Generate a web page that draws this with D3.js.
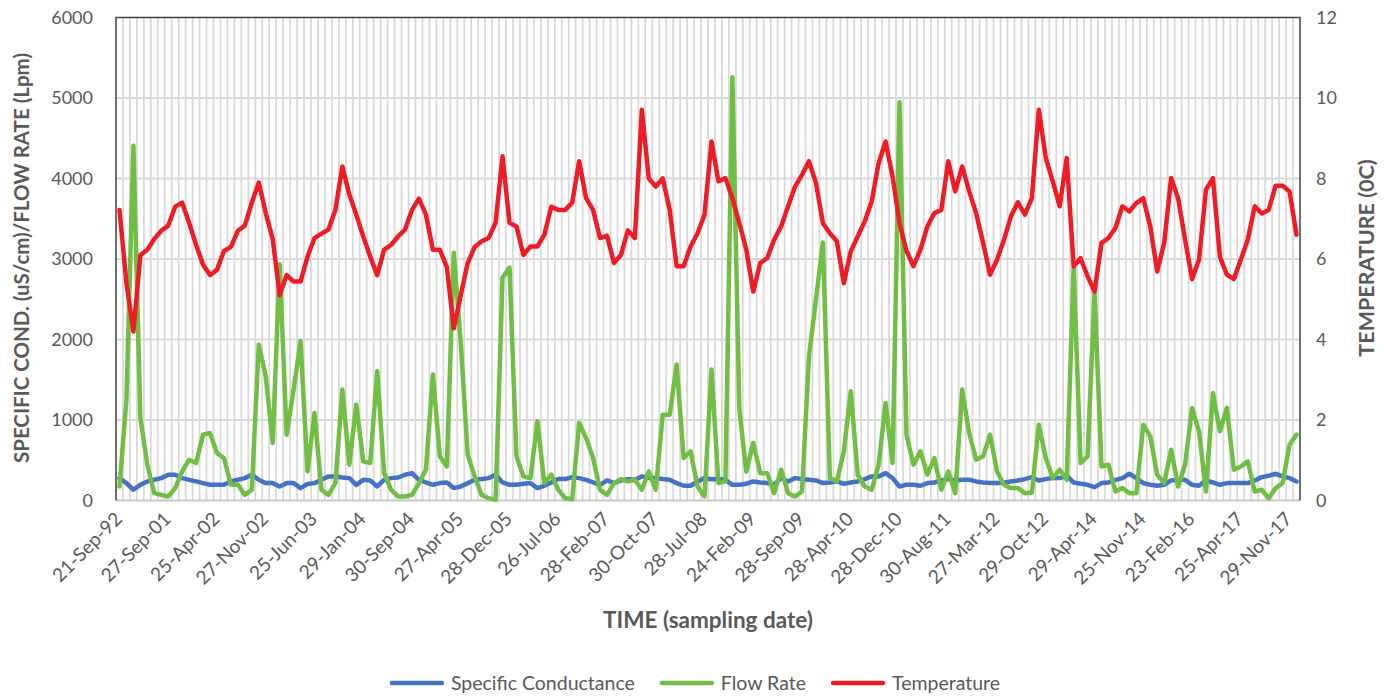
<!DOCTYPE html>
<html><head><meta charset="utf-8">
<script src="https://cdn.jsdelivr.net/npm/d3@7"></script>
<style>body{margin:0;background:#fff;} svg{display:block;font-family:Lato,"Open Sans",sans-serif;}</style>
</head><body><svg id="c" width="1388" height="696"></svg>
<script>
// ---- DATA ----
const tickLabels = ["21-Sep-92","27-Sep-01","25-Apr-02","27-Nov-02","25-Jun-03","29-Jan-04","30-Sep-04","27-Apr-05","28-Dec-05","26-Jul-06","28-Feb-07","30-Oct-07","28-Jul-08","24-Feb-09","28-Sep-09","28-Apr-10","28-Dec-10","30-Aug-11","27-Mar-12","29-Oct-12","29-Apr-14","25-Nov-14","23-Feb-16","25-Apr-17","29-Nov-17"];
const tickEvery = 7;
const conductance = [
278,216,133,195,237,257,278,320,320,278,
257,237,216,195,195,195,237,257,278,320,
257,216,216,174,216,216,154,205,216,257,
299,299,286,278,195,257,249,174,257,278,
286,320,340,257,224,195,216,224,154,174,
216,257,266,278,320,224,195,195,208,216,
154,183,224,266,266,290,278,257,224,195,
249,216,249,266,257,299,278,278,266,257,
216,183,183,237,278,265,266,257,195,195,
208,237,224,216,195,280,237,278,266,257,
249,216,224,237,208,224,237,266,299,299,
340,278,174,195,195,183,216,224,249,266,
249,257,257,237,224,216,216,224,237,249,
266,290,249,266,278,278,307,224,208,195,
166,216,224,257,278,332,278,216,195,183,
195,249,257,257,195,183,249,224,195,216,
216,216,216,249,290,307,332,299,278,237];
const flowRate = [
174,1253,4407,1025,444,91,70,50,154,361,
506,465,818,838,589,527,195,195,70,133,
1938,1544,714,2934,818,1378,1980,361,1087,133,
70,216,1378,444,1191,486,465,1606,340,133,
50,50,70,216,382,1565,548,423,3079,1959,
569,299,70,29,8,2768,2893,548,299,278,
984,216,320,133,29,17,963,776,527,133,
70,216,266,237,257,133,361,133,1066,1066,
1689,527,610,174,50,1627,216,237,5258,1129,
361,714,340,340,91,382,91,50,112,1793,
2498,3204,278,237,610,1357,320,174,133,444,
1212,465,4947,818,444,610,320,527,133,361,
91,1378,838,506,548,818,361,195,154,154,
91,100,942,527,278,382,257,2893,465,548,
2581,423,444,112,154,91,91,942,797,320,
216,631,174,444,1150,859,112,1336,859,1150,
382,423,486,112,133,29,154,216,693,818];
const temperature = [
7.22,5.4,4.2,6.1,6.23,6.5,6.7,6.83,7.3,7.4,
6.9,6.35,5.86,5.6,5.73,6.2,6.3,6.7,6.83,7.4,
7.9,7.14,6.5,5.1,5.6,5.44,5.44,6.06,6.52,6.63,
6.73,7.22,8.3,7.6,7.1,6.56,6.06,5.6,6.23,6.35,
6.56,6.73,7.22,7.5,7.1,6.23,6.23,5.8,4.28,5.1,
5.9,6.3,6.44,6.52,6.9,8.55,6.9,6.81,6.1,6.31,
6.31,6.6,7.3,7.22,7.22,7.4,8.43,7.51,7.22,6.52,
6.58,5.9,6.1,6.71,6.52,9.71,8.0,7.8,8.0,7.22,
5.82,5.82,6.31,6.64,7.1,8.92,7.93,8.01,7.51,6.89,
6.23,5.19,5.9,6.02,6.48,6.81,7.31,7.8,8.09,8.43,
7.89,6.89,6.64,6.44,5.4,6.19,6.56,6.93,7.43,8.38,
8.92,8.05,6.89,6.2,5.82,6.23,6.81,7.14,7.22,8.43,
7.68,8.3,7.68,7.14,6.4,5.61,5.98,6.48,7.06,7.41,
7.1,7.51,9.71,8.51,7.93,7.31,8.51,5.82,6.02,5.57,
5.19,6.4,6.52,6.77,7.31,7.18,7.39,7.51,6.81,5.69,
6.4,8.01,7.51,6.48,5.5,5.98,7.72,8.01,6.06,5.61,
5.5,5.98,6.48,7.31,7.13,7.22,7.82,7.82,7.68,6.6];
const seriesNames = ["Specific Conductance","Flow Rate","Temperature"];
const seriesColors = ["#4472C4","#70BF44","#EE1C25"];
const leftTicks = [0,1000,2000,3000,4000,5000,6000];
const rightTicks = [0,2,4,6,8,10,12];
const leftTitle = "SPECIFIC COND. (uS/cm)/FLOW RATE (Lpm)";
const rightTitle = "TEMPERATURE (0C)";
const xTitle = "TIME (sampling date)";

// ---- LAYOUT ----
const m = {l:116, r:1300, t:17.5, b:500.5};
const txt = "#595959";
const n = conductance.length;
const svg = d3.select("#c");
const x = d3.scaleBand().domain(d3.range(n)).range([m.l, m.r]);
const xc = i => x(i) + x.bandwidth()/2;
const yL = d3.scaleLinear().domain([0,6000]).range([m.b, m.t]);
const yR = d3.scaleLinear().domain([0,12]).range([m.b, m.t]);

// gridlines
const g = svg.append("g");
g.selectAll(".vg").data(d3.range(1, n)).enter().append("line")
  .attr("x1", i => x(i)).attr("x2", i => x(i)).attr("y1", m.t).attr("y2", m.b)
  .attr("stroke", "#d9d9d9").attr("stroke-width", 1.75);
g.selectAll(".hg").data(leftTicks.slice(1, -1)).enter().append("line")
  .attr("x1", m.l).attr("x2", m.r).attr("y1", d => yL(d)).attr("y2", d => yL(d))
  .attr("stroke", "#d9d9d9").attr("stroke-width", 2);
svg.append("line").attr("x1", m.l).attr("x2", m.r).attr("y1", m.b).attr("y2", m.b)
  .attr("stroke", "#c8c8c8").attr("stroke-width", 2);
svg.append("path").attr("d", `M${m.l},${m.b}V${m.t}H${m.r}V${m.b}`)
  .attr("fill", "none").attr("stroke", "#404040").attr("stroke-width", 1.5);

// axes
const la = svg.append("g").attr("transform", `translate(${m.l},0)`)
  .call(d3.axisLeft(yL).tickValues(leftTicks).tickSize(0).tickPadding(23).tickFormat(d3.format("d")));
const ra = svg.append("g").attr("transform", `translate(${m.r},0)`)
  .call(d3.axisRight(yR).tickValues(rightTicks).tickSize(0).tickPadding(16));
const xa = svg.append("g").attr("transform", `translate(0,${m.b})`)
  .call(d3.axisBottom(x).tickValues(d3.range(0, n, tickEvery)).tickSize(0)
    .tickFormat(i => tickLabels[i / tickEvery]));
[la, ra, xa].forEach(a => {
  a.select(".domain").remove();
  a.selectAll("text").attr("fill", txt).style("font-size", "18px").style("font-family", "Lato");
});
xa.selectAll("text").style("font-size", "19px").attr("x", 0).attr("y", 0).attr("dy", "0.35em")
  .attr("text-anchor", "end").attr("transform", "translate(-1,15) rotate(-45)");

// lines
const lineL = d3.line().x((d, i) => xc(i)).y(d => yL(d));
const lineR = d3.line().x((d, i) => xc(i)).y(d => yR(d));
const lines = [
  {d: conductance, f: lineL, c: seriesColors[0]},
  {d: flowRate, f: lineL, c: seriesColors[1]},
  {d: temperature, f: lineR, c: seriesColors[2]}
];
lines.forEach(s => {
  svg.append("path").attr("d", s.f(s.d)).attr("fill", "none").attr("stroke", s.c)
    .attr("stroke-width", 4.5).attr("stroke-linejoin", "round").attr("stroke-linecap", "round");
});

// titles
svg.append("text").attr("transform", `translate(22,258) rotate(-90)`).attr("dy", "0.35em")
  .attr("text-anchor", "middle").attr("fill", txt).style("font-size", "20.5px").style("font-weight", "bold")
  .text(leftTitle);
svg.append("text").attr("transform", `translate(1366,258) rotate(-90)`).attr("dy", "0.35em")
  .attr("text-anchor", "middle").attr("fill", txt).style("font-size", "21.5px").style("font-weight", "bold")
  .text(rightTitle);
svg.append("text").attr("x", 708).attr("y", 620).attr("dy", "0.35em")
  .attr("text-anchor", "middle").attr("fill", txt).style("font-size", "22.5px").style("font-weight", "bold")
  .text(xTitle);

// legend
const lg = svg.append("g");
const items = seriesNames.map((nm, i) => {
  const gi = lg.append("g");
  gi.append("line").attr("x1", 0).attr("x2", 50).attr("y1", 0).attr("y2", 0)
    .attr("stroke", seriesColors[i]).attr("stroke-width", 4.5).attr("stroke-linecap", "round");
  const t = gi.append("text").attr("x", 59).attr("y", 0).attr("dy", "0.35em")
    .attr("fill", txt).style("font-size", "19.5px").text(nm);
  return {gi, w: 59 + t.node().getComputedTextLength()};
});
const gap = 27;
const total = d3.sum(items, d => d.w) + gap * (items.length - 1);
let cx = 696 - total / 2;
items.forEach(it => { it.gi.attr("transform", `translate(${cx},683)`); cx += it.w + gap; });
</script></body></html>
